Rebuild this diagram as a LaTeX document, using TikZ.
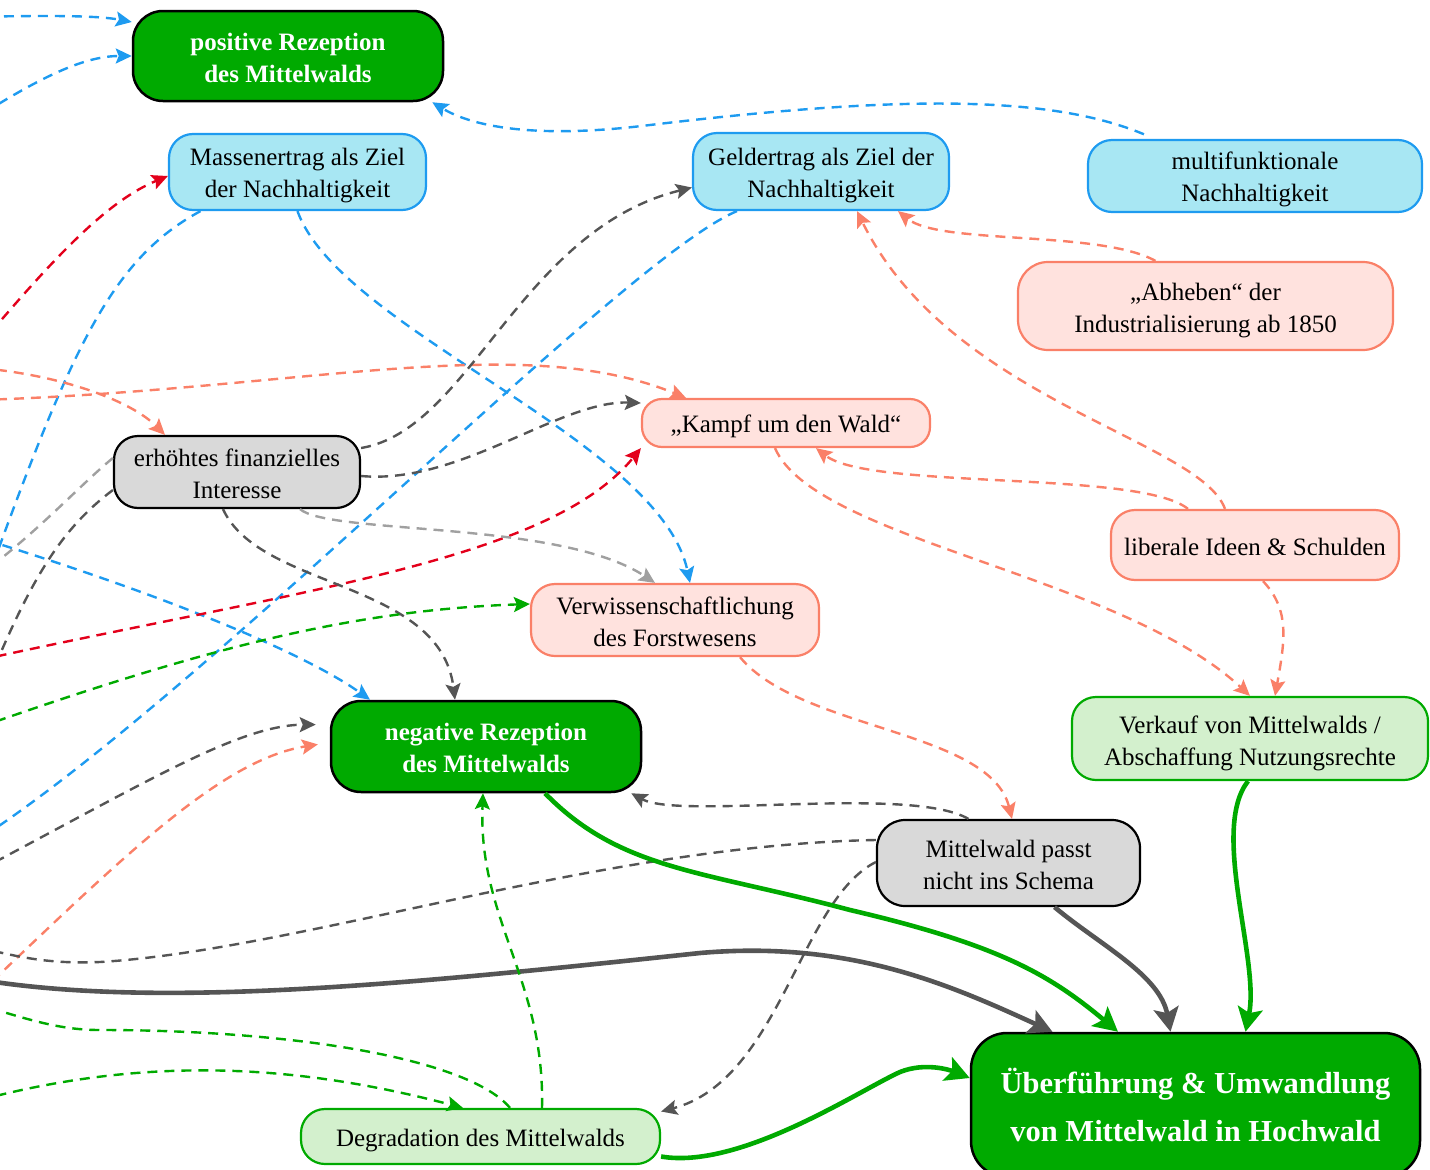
\documentclass[tikz,border=0pt]{standalone}
\usepackage{fontspec}
\setmainfont{Liberation Serif}
\usetikzlibrary{arrows.meta}
\definecolor{grn}{HTML}{00AA00}
\definecolor{blu}{HTML}{1E9BF0}
\definecolor{lblu}{HTML}{A8E7F3}
\definecolor{sal}{HTML}{FA8068}
\definecolor{lsal}{HTML}{FFE2DE}
\definecolor{rd}{HTML}{E3001B}
\definecolor{dgr}{HTML}{555555}
\definecolor{lgr}{HTML}{A0A0A0}
\definecolor{fgr}{HTML}{D9D9D9}
\definecolor{lgrn}{HTML}{D3F0CD}
\newcommand{\mytop}[1]{\rule{0pt}{#1}}
\tikzset{
  box/.style={rounded corners=24pt, line width=2.2pt, align=center, inner sep=0pt,
    font=\fontsize{25}{32}\selectfont},
  gbox/.style={box, rounded corners=30pt, fill=grn, draw=black, line width=2.5pt, text=white,
    font=\bfseries\fontsize{25}{32}\selectfont},
  bbox/.style={box, fill=lblu, draw=blu},
  sbox/.style={box, fill=lsal, draw=sal},
  ybox/.style={box, fill=fgr, draw=black},
  lbox/.style={box, fill=lgrn, draw=grn},
  ed/.style={dash pattern=on 10pt off 7pt, line width=2.4pt},
  ar/.style={ed, -{Stealth[length=16pt,width=15pt,inset=3pt]}},
  th/.style={line width=4.6pt, -{Stealth[length=24pt,width=25pt,inset=5pt]}},
}
\begin{document}
\begin{tikzpicture}[x=1pt,y=-1pt]
\useasboundingbox (0,0) rectangle (1430,1170);
\clip (0,0) rectangle (1430,1170);

% nodes
\node[gbox, minimum width=310pt, minimum height=90pt] (posR) at (288,56) {\mytop{21pt}positive Rezeption\\des Mittelwalds};
\node[bbox, minimum width=257pt, minimum height=76pt] (mass) at (297.5,172) {\mytop{25pt}Massenertrag als Ziel\\der Nachhaltigkeit};
\node[bbox, minimum width=256pt, minimum height=77pt] (geld) at (821,171.5) {\mytop{25pt}Geldertrag als Ziel der\\Nachhaltigkeit};
\node[bbox, minimum width=334pt, minimum height=72pt] (multi) at (1255,176) {\mytop{24pt}multifunktionale\\Nachhaltigkeit};
\node[sbox, rounded corners=30pt, minimum width=375pt, minimum height=88pt] (abh) at (1205.5,306) {\mytop{26pt}„Abheben“ der\\Industrialisierung ab 1850};
\node[sbox, rounded corners=20pt, minimum width=288pt, minimum height=48pt] (kampf) at (786,423) {\mytop{25pt}„Kampf um den Wald“};
\node[ybox, minimum width=246pt, minimum height=72pt] (erh) at (237,472) {\mytop{21pt}erhöhtes finanzielles\\Interesse};
\node[sbox, minimum width=288pt, minimum height=70pt] (lib) at (1255,545) {\mytop{21pt}liberale Ideen \& Schulden};
\node[sbox, minimum width=288pt, minimum height=72pt] (verw) at (675,620) {\mytop{21pt}Verwissenschaftlichung\\des Forstwesens};
\node[gbox, minimum width=310pt, minimum height=91pt] (negR) at (486,746.5) {\mytop{21pt}negative Rezeption\\des Mittelwalds};
\node[lbox, minimum width=356pt, minimum height=83pt] (verk) at (1250,738.5) {\mytop{27pt}Verkauf von Mittelwalds /\\Abschaffung Nutzungsrechte};
\node[ybox, rounded corners=28pt, minimum width=263pt, minimum height=86pt] (mps) at (1008.5,863) {\mytop{21pt}Mittelwald passt\\nicht ins Schema};
\node[gbox, rounded corners=36pt, minimum width=449pt, minimum height=144pt,
  font=\bfseries\fontsize{30.5}{48}\selectfont] (ueb) at (1195.5,1105) {Überführung \& Umwandlung\\von Mittelwald in Hochwald};
\node[lbox, minimum width=359pt, minimum height=55pt] (degr) at (480.5,1136.5) {\mytop{25pt}Degradation des Mittelwalds};

% off-canvas ends
\coordinate (oB1) at (-30,17);
\coordinate (oB2) at (-30,122);
\coordinate (oB4) at (-20,600);
\coordinate (oB6) at (-30,845);
\coordinate (oB7) at (-30,535);
\coordinate (oR1) at (-20,345);
\coordinate (oR2) at (-20,660);
\coordinate (oS1) at (-20,368);
\coordinate (oS2) at (-20,400);
\coordinate (oS9) at (-20,993);
\coordinate (oG4) at (-15,690);
\coordinate (oG5) at (-20,870);
\coordinate (oG7) at (-30,945);
\coordinate (oG9) at (-30,978);
\coordinate (oL2) at (-20,575);
\coordinate (oN1) at (-20,727);
\coordinate (oN2) at (-20,1005);
\coordinate (oN3) at (-20,1100);

% blue
\draw[ar, blu] (oB1) .. controls (60,15) and (100,16) .. ([yshift=34pt]posR.west);
\draw[ar, blu] (oB2) .. controls (50,70) and (90,56) .. (posR.west);
\draw[ar, blu, shorten <=12pt] ([xshift=-100pt]multi.north) .. controls (1050,95) and (900,95) .. (650,125)
   .. controls (530,140) and (470,125) .. ([xshift=-12pt]posR.south east);
\draw[ed, blu] ([xshift=-97pt]mass.south) .. controls (110,260) and (70,350) .. (oB4);
\draw[ar, blu] (mass.south) .. controls (340,330) and (660,440) .. ([xshift=15pt]verw.north);
\draw[ed, blu] ([xshift=-84pt]geld.south) .. controls (620,260) and (200,700) .. (oB6);
\draw[ar, blu] (oB7) .. controls (150,590) and (300,650) .. ([xshift=-116pt]negR.north);

% red
\draw[ar, rd] (oR1) .. controls (60,250) and (110,200) .. ([yshift=-4pt]mass.west);
\draw[ar, rd] (oR2) .. controls (300,590) and (550,560) .. (kampf.south west);

% salmon
\draw[ar, sal] (oS1) .. controls (60,375) and (130,400) .. ([xshift=-72pt]erh.north);
\draw[ar, sal] (oS2) .. controls (300,390) and (520,330) .. ([xshift=-100pt]kampf.north);
\draw[ar, sal] ([xshift=-50pt]abh.north) .. controls (1100,230) and (940,245) .. ([xshift=77pt]geld.south);
\draw[ar, sal] ([xshift=-30pt]lib.north) .. controls (1200,440) and (950,400) .. ([xshift=36pt]geld.south);
\draw[ar, sal] ([xshift=-67pt]lib.north) .. controls (1140,470) and (870,490) .. ([xshift=30pt]kampf.south);
\draw[ar, sal] ([xshift=-11pt]kampf.south) .. controls (815,540) and (1120,575) .. (verk.north);
\draw[ar, sal] ([xshift=8pt]lib.south) .. controls (1290,610) and (1285,640) .. ([xshift=25pt]verk.north);
\draw[ar, sal] ([xshift=65pt]verw.south) .. controls (800,730) and (990,730) .. ([xshift=3.5pt]mps.north);
\draw[ar, sal, shorten >=12pt] (oS9) .. controls (120,860) and (220,760) .. ([yshift=4pt]negR.west);

% dark gray
\draw[ar, dgr] ([yshift=24pt]erh.east) .. controls (470,430) and (520,230) .. ([yshift=-16pt]geld.west);
\draw[ar, dgr] ([yshift=-4pt]erh.east) .. controls (460,485) and (560,400) .. ([yshift=20pt]kampf.west);
\draw[ar, dgr] ([xshift=-14pt]erh.south) .. controls (260,590) and (440,580) .. ([xshift=-31pt]negR.north);
\draw[ed, dgr] ([yshift=-18pt]erh.west) .. controls (60,530) and (30,580) .. (oG4);
\draw[ar, dgr, shorten >=14pt] (oG5) .. controls (150,780) and (240,725) .. ([yshift=22pt]negR.west);
\draw[ar, dgr] ([xshift=-40pt]mps.north) .. controls (910,785) and (680,820) .. ([xshift=-11pt]negR.south east);
\draw[ed, dgr] ([yshift=23pt]mps.west) .. controls (600,845) and (300,950) .. (100,962)
   .. controls (50,964) and (20,958) .. (oG7);
\draw[ar, dgr] ([yshift=1pt]mps.west) .. controls (800,900) and (780,1080) .. ([yshift=25pt]degr.east);
\draw[th, dgr] (oG9) .. controls (150,1010) and (400,985) .. (700,953)
   .. controls (850,940) and (950,985) .. ([xshift=-143pt]ueb.north);
\draw[th, dgr] ([xshift=46pt]mps.south) .. controls (1100,945) and (1160,975) .. ([xshift=-25pt]ueb.north);

% light gray
\draw[ar, lgr] ([xshift=63pt]erh.south) .. controls (330,535) and (560,520) .. ([xshift=-20pt]verw.north);
\draw[ed, lgr] ([yshift=14pt]erh.west) .. controls (80,485) and (40,530) .. (oL2);

% green
\draw[ar, grn] (oN1) .. controls (200,650) and (350,610) .. ([yshift=16pt]verw.west);
\draw[ed, grn] ([xshift=29.5pt]degr.north) .. controls (470,1060) and (300,1030) .. (100,1030)
   .. controls (60,1030) and (30,1020) .. (oN2);
\draw[ar, grn] (oN3) .. controls (150,1055) and (300,1065) .. ([xshift=-17.5pt]degr.north);
\draw[ar, grn] ([xshift=61.5pt]degr.north) .. controls (545,980) and (478,920) .. ([xshift=-3pt]negR.south);
\draw[th, grn] ([xshift=59pt]negR.south) .. controls (620,870) and (700,870) .. (850,910)
   .. controls (1000,945) and (1050,975) .. ([xshift=-77.5pt]ueb.north);
\draw[th, grn] ([xshift=-2pt]verk.south) .. controls (1210,830) and (1260,960) .. ([xshift=50pt]ueb.north);
\draw[th, grn] ([yshift=-20pt]degr.east) .. controls (740,1170) and (860,1090) .. (900,1072)
   .. controls (925,1062) and (950,1070) .. ([yshift=27pt]ueb.west);
\end{tikzpicture}
\end{document}
